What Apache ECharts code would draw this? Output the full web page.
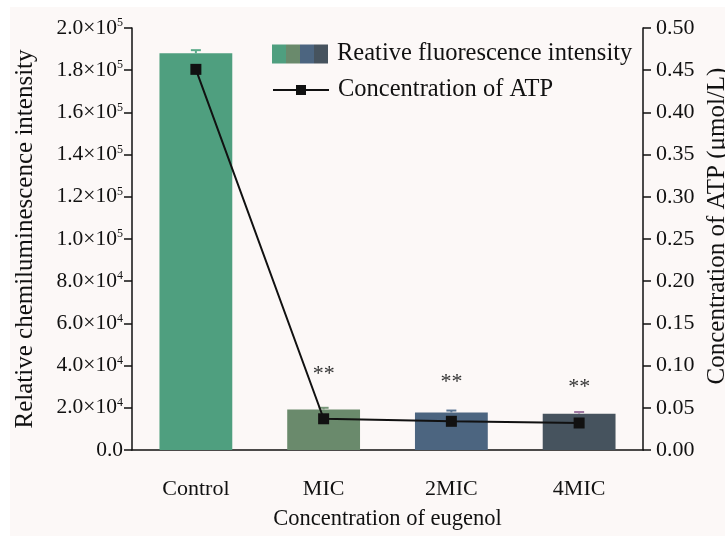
<!DOCTYPE html>
<html>
<head>
<meta charset="utf-8">
<script src="https://cdn.jsdelivr.net/npm/echarts@6/dist/echarts.min.js"></script>
<style>
  html, body { margin: 0; padding: 0; background: #ffffff; }
  #chart { width: 725px; height: 536px; }
</style>
</head>
<body>
<div id="chart"></div>
<script>
// Treatment groups
var categories = ['Control', 'MIC', '2MIC', '4MIC'];
// Relative fluorescence (chemiluminescence) intensity, mean and upper error
var fluorescence = [188000, 19200, 17800, 17200];
var fluorescenceErr = [1500, 800, 900, 800];
// ATP concentration (umol/L)
var atpConcentration = [0.451, 0.037, 0.034, 0.032];
// Significance marks above the treated groups
var significance = ['', '**', '**', '**'];
// Left axis tick labels: mantissa and power of ten
var leftTickMantissa = ['0.0', '2.0', '4.0', '6.0', '8.0', '1.0', '1.2', '1.4', '1.6', '1.8', '2.0'];
var leftTickPower = ['', '4', '4', '4', '4', '5', '5', '5', '5', '5', '5'];

// Styling
var barColors = ['#4f9f7f', '#6a8a6c', '#4c6580', '#46535e'];
var errColors = ['#5cab8a', '#78977a', '#5a7593', '#a07aa2'];
var starGap = [0, 24, 19, 15];
var FONT = '"Liberation Serif", "Times New Roman", serif';

var chart = echarts.init(document.getElementById('chart'), null, { renderer: 'canvas' });

// Legend swatch: four hard-edged colour stripes
var stripeStops = [];
barColors.forEach(function (c, i) {
  stripeStops.push({ offset: i / barColors.length, color: c });
  stripeStops.push({ offset: (i + 1) / barColors.length, color: c });
});

var legendText = { fontFamily: FONT, fontSize: 24.5, lineHeight: 26, color: '#111', padding: [0, 0, 0, 4] };

var option = {
  backgroundColor: '#ffffff',
  animation: false,
  textStyle: { fontFamily: FONT, color: '#111' },
  graphic: [{
    type: 'rect', left: 10, top: 7, z: -10,
    shape: { width: 725, height: 536 },
    style: { fill: '#fcf8f7' }
  }],
  grid: { left: 132, right: 82, top: 28, bottom: 86, containLabel: false, outerBoundsMode: 'none' },
  legend: [{
    orient: 'vertical',
    left: 267, top: 36,
    itemWidth: 56, itemHeight: 19,
    textStyle: legendText,
    data: [{ name: 'Reative fluorescence intensity', icon: 'rect' }]
  }, {
    orient: 'vertical',
    left: 267, top: 72,
    itemWidth: 56, itemHeight: 12.5,
    textStyle: legendText,
    data: [{ name: 'Concentration of ATP' }]
  }],
  xAxis: {
    type: 'category',
    data: categories,
    name: 'Concentration of eugenol',
    nameLocation: 'middle',
    nameGap: 58,
    nameTextStyle: { fontFamily: FONT, fontSize: 22.5, color: '#111' },
    axisLine: { lineStyle: { color: '#111', width: 1.5 } },
    axisTick: { length: 11, lineStyle: { color: '#111', width: 1.5 } },
    axisLabel: { fontFamily: FONT, fontSize: 22, color: '#111', margin: 28 },
    splitLine: { show: false }
  },
  yAxis: [{
    type: 'value',
    min: 0, max: 200000, interval: 20000,
    name: 'Relative chemiluminescence intensity',
    nameLocation: 'middle',
    nameRotate: 90,
    nameGap: 94,
    nameTextStyle: { fontFamily: FONT, fontSize: 25, color: '#111' },
    axisLine: { show: true, lineStyle: { color: '#111', width: 1.5 } },
    axisTick: { show: true, length: 8, lineStyle: { color: '#111', width: 1.5 } },
    splitLine: { show: false },
    axisLabel: {
      margin: 9,
      formatter: function (v) {
        var i = Math.round(v / 20000);
        if (!leftTickPower[i]) return '{m|' + leftTickMantissa[i] + '}';
        return '{m|' + leftTickMantissa[i] + '×10}{s|' + leftTickPower[i] + '}';
      },
      rich: {
        m: { fontFamily: FONT, fontSize: 21.5, color: '#111', lineHeight: 22 },
        s: { fontFamily: FONT, fontSize: 12, color: '#111', verticalAlign: 'top', lineHeight: 22, padding: [0, 0, 8, 0] }
      }
    }
  }, {
    type: 'value',
    min: 0, max: 0.5, interval: 0.05,
    position: 'right',
    name: 'Concentration of ATP (μmol/L)',
    nameLocation: 'middle',
    nameRotate: 90,
    nameGap: 60,
    nameTextStyle: { fontFamily: FONT, fontSize: 25, color: '#111', padding: [0, 0, 0, 26] },
    axisLine: { show: true, lineStyle: { color: '#111', width: 1.5 } },
    axisTick: { show: true, length: 8, lineStyle: { color: '#111', width: 1.5 } },
    splitLine: { show: false },
    axisLabel: {
      fontFamily: FONT, fontSize: 22, color: '#111', margin: 13,
      formatter: function (v) { return v.toFixed(2); }
    }
  }],
  series: [{
    name: 'Reative fluorescence intensity',
    type: 'bar',
    barWidth: '57%',
    yAxisIndex: 0,
    itemStyle: {
      color: { type: 'linear', x: 0, y: 0, x2: 1, y2: 0, colorStops: stripeStops }
    },
    label: {
      show: true,
      position: 'top',
      fontFamily: FONT, fontSize: 22, color: '#333',
      formatter: function (p) { return significance[p.dataIndex]; }
    },
    data: fluorescence.map(function (v, i) {
      return { value: v, itemStyle: { color: barColors[i] }, label: { distance: starGap[i] } };
    }),
    z: 2
  }, {
    name: 'Error',
    type: 'custom',
    yAxisIndex: 0,
    z: 3,
    renderItem: function (params, api) {
      var i = api.value(0);
      var base = api.coord([i, api.value(1)]);
      var top = api.coord([i, api.value(2)]);
      var c = errColors[i];
      return {
        type: 'group',
        children: [
          { type: 'line', shape: { x1: base[0], y1: base[1], x2: top[0], y2: top[1] }, style: { stroke: c, lineWidth: 2 } },
          { type: 'line', shape: { x1: top[0] - 5, y1: top[1], x2: top[0] + 5, y2: top[1] }, style: { stroke: c, lineWidth: 2 } }
        ]
      };
    },
    data: fluorescence.map(function (v, i) { return [i, v, v + fluorescenceErr[i]]; })
  }, {
    name: 'Concentration of ATP',
    type: 'line',
    yAxisIndex: 1,
    data: atpConcentration,
    symbol: 'rect',
    symbolSize: 11,
    lineStyle: { color: '#111', width: 2 },
    itemStyle: { color: '#111' },
    z: 5
  }]
};

chart.setOption(option);
</script>
</body>
</html>
